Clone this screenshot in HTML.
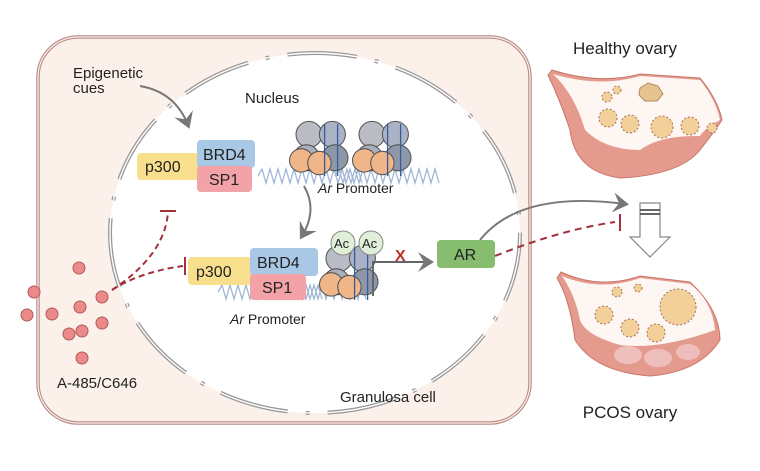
<!DOCTYPE html>
<html><head><meta charset="utf-8"><style>
body{margin:0;background:#fff}
svg{display:block;font-family:"Liberation Sans",sans-serif}
</style></head><body>
<svg width="760" height="471" viewBox="0 0 760 471">
<defs>
<marker id="ga" markerWidth="10" markerHeight="10" refX="6" refY="5" orient="auto"><path d="M0,0 L8,5 L0,10 L3,5Z" fill="#777"/></marker>
<g id="nuc">
<circle cx="-10" cy="-12" r="10" fill="#b9bcc4" stroke="#555" stroke-width="0.8"/>
<circle cx="8" cy="-12" r="10" fill="#aab3c6" stroke="#555" stroke-width="0.8"/>
<circle cx="-12" cy="6" r="10" fill="#aab0bb" stroke="#555" stroke-width="0.8"/>
<circle cx="10" cy="6" r="10" fill="#8d97aa" stroke="#555" stroke-width="0.8"/>
<circle cx="-16" cy="8" r="9" fill="#f0b68a" stroke="#555" stroke-width="0.8"/>
<circle cx="-2" cy="10" r="9" fill="#f0b68a" stroke="#555" stroke-width="0.8"/>
<path d="M2,-20 L2,20 M12,-20 L12,20" stroke="#3a5a9a" stroke-width="1"/>
</g>
<path id="dna" d="M0,0 l4,-7 l4,14 l4,-14 l4,14 l4,-14 l4,14 l4,-14 l4,14 l4,-14 l4,14 l4,-14 l4,14 l4,-14 l4,14 l4,-14 l4,14 l4,-14 l4,14 l4,-14 l4,14 l4,-14 l4,14 l4,-14 l4,14 l4,-14 l4,14" fill="none" stroke="#9fb6d2" stroke-width="1.3"/>
</defs>
<!-- cell -->
<rect x="38" y="37" width="492" height="386" rx="40" fill="#fbf1ea" stroke="#b98a86" stroke-width="3.5"/>
<rect x="38" y="37" width="492" height="386" rx="40" fill="none" stroke="#fbf1ea" stroke-width="1.2"/>
<!-- nucleus -->
<ellipse cx="315" cy="233" rx="205" ry="180" fill="#fff" stroke="#999" stroke-width="4" stroke-dasharray="70 18 4 18"/>
<ellipse cx="315" cy="233" rx="205" ry="180" fill="none" stroke="#fff" stroke-width="1.4" stroke-dasharray="70 18 4 18"/>
<text x="245" y="103" font-size="15" fill="#222">Nucleus</text>
<text x="340" y="402" font-size="15" fill="#222">Granulosa cell</text>
<text x="73" y="78" font-size="15" fill="#222">Epigenetic</text>
<text x="73" y="93" font-size="15" fill="#222">cues</text>
<path d="M140,86 Q175,92 188,125" fill="none" stroke="#777" stroke-width="2" marker-end="url(#ga)"/>
<!-- top complex -->
<use href="#dna" x="258" y="176"/>
<use href="#dna" x="335" y="176"/>
<use href="#nuc" transform="translate(322,150) scale(1.3)"/>
<use href="#nuc" transform="translate(385,150) scale(1.3)"/>
<rect x="137" y="153" width="62" height="27" rx="4" fill="#f8df8e"/>
<text x="145" y="172" font-size="16" fill="#222">p300</text>
<rect x="197" y="140" width="58" height="28" rx="4" fill="#a9c8e6"/>
<text x="203" y="160" font-size="16" fill="#222">BRD4</text>
<rect x="197" y="166" width="55" height="26" rx="4" fill="#f3a3a8"/>
<text x="209" y="185" font-size="16" fill="#222">SP1</text>
<text x="318" y="193" font-size="14" fill="#222"><tspan font-style="italic">Ar</tspan> Promoter</text>
<path d="M304,186 Q318,210 302,236" fill="none" stroke="#777" stroke-width="2" marker-end="url(#ga)"/>
<!-- bottom complex -->
<use href="#dna" x="218" y="292"/>
<use href="#dna" x="262" y="292"/>
<use href="#nuc" transform="translate(352,274) scale(1.3)"/>
<circle cx="343" cy="243" r="12" fill="#e0f0d8" stroke="#888"/>
<text x="334" y="248" font-size="13" fill="#222">Ac</text>
<circle cx="371" cy="243" r="12" fill="#e0f0d8" stroke="#888"/>
<text x="362" y="248" font-size="13" fill="#222">Ac</text>
<rect x="188" y="257" width="64" height="28" rx="4" fill="#f8df8e"/>
<text x="196" y="277" font-size="16" fill="#222">p300</text>
<rect x="250" y="248" width="68" height="28" rx="4" fill="#a9c8e6"/>
<text x="257" y="268" font-size="16" fill="#222">BRD4</text>
<rect x="250" y="274" width="56" height="26" rx="4" fill="#f3a3a8"/>
<text x="262" y="293" font-size="16" fill="#222">SP1</text>
<text x="230" y="324" font-size="14" fill="#222"><tspan font-style="italic">Ar</tspan> Promoter</text>
<path d="M373,296 L373,262 L430,262" fill="none" stroke="#666" stroke-width="2" marker-end="url(#ga)"/>
<text x="395" y="261" font-size="16" font-weight="bold" fill="#c0302a">X</text>
<rect x="437" y="240" width="58" height="28" rx="4" fill="#86bd6e"/>
<text x="454" y="260" font-size="16" fill="#222">AR</text>
<!-- inhibitors -->
<path d="M112,290 Q140,272 183,266" fill="none" stroke="#a3303d" stroke-width="2" stroke-dasharray="6 4"/>
<path d="M185,257 L185,275" stroke="#a3303d" stroke-width="2"/>
<path d="M112,290 Q165,255 168,212" fill="none" stroke="#a3303d" stroke-width="2" stroke-dasharray="6 4"/>
<path d="M160,211 L176,211" stroke="#a3303d" stroke-width="2"/>
<g fill="#ec8a8a" stroke="#b05a5a">
<circle cx="34" cy="292" r="6"/><circle cx="27" cy="315" r="6"/><circle cx="52" cy="314" r="6"/>
<circle cx="79" cy="268" r="6"/><circle cx="80" cy="307" r="6"/><circle cx="102" cy="297" r="6"/>
<circle cx="82" cy="331" r="6"/><circle cx="69" cy="334" r="6"/><circle cx="102" cy="323" r="6"/><circle cx="82" cy="358" r="6"/>
</g>
<text x="57" y="388" font-size="15" fill="#222">A-485/C646</text>
<!-- right side -->
<path d="M480,240 Q520,190 625,204" fill="none" stroke="#777" stroke-width="2" marker-end="url(#ga)"/>
<path d="M495,256 Q560,230 615,222" fill="none" stroke="#a3303d" stroke-width="2" stroke-dasharray="7 5"/>
<path d="M620,214 L620,231" stroke="#a3303d" stroke-width="2"/>
<path d="M640,203 L660,203 L660,237 L670,237 L650,257 L630,237 L640,237 Z" fill="#fff" stroke="#888" stroke-width="1.2"/>
<path d="M640,210 L660,210 M640,214 L660,214" stroke="#333" stroke-width="1.5"/>
<text x="625" y="54" font-size="17" fill="#222" text-anchor="middle">Healthy ovary</text>
<text x="630" y="418" font-size="17" fill="#222" text-anchor="middle">PCOS ovary</text>
<!-- healthy ovary -->
<path d="M548,75 L552,70 Q600,85 640,74 L700,78 Q718,100 722,120 Q712,135 700,150 Q680,175 620,178 Q575,172 570,130 Q560,100 548,75Z" fill="#e59a8e" stroke="#c9776a"/>
<path d="M553,74 Q600,88 640,76 L700,80 Q716,100 720,120 Q705,128 700,136 Q660,135 640,150 Q605,150 585,130 Q575,95 553,74Z" fill="#fdf6f2"/>
<path d="M640,88 l8,-5 l10,3 l5,8 l-6,7 l-12,0 l-6,-6Z" fill="#e6c390" stroke="#b08a60"/>
<g fill="#f3cf9a" stroke="#a3715a" stroke-dasharray="2 2">
<circle cx="607" cy="97" r="5"/><circle cx="617" cy="90" r="4"/>
<circle cx="608" cy="118" r="9"/><circle cx="630" cy="124" r="9"/><circle cx="662" cy="127" r="11"/><circle cx="690" cy="126" r="9"/><circle cx="712" cy="128" r="5"/>
</g>
<!-- pcos ovary -->
<path d="M557,278 L561,272 Q600,290 640,276 L690,282 Q720,310 720,340 Q700,372 650,376 Q595,372 575,340 Q570,300 557,278Z" fill="#e59a8e" stroke="#c9776a"/>
<path d="M562,276 Q600,292 640,278 L690,284 Q712,300 715,330 Q660,350 620,345 Q585,335 580,320 Q575,295 562,276Z" fill="#fdf6f2"/>
<g fill="#f0c8c8" opacity="0.8"><ellipse cx="628" cy="355" rx="14" ry="9"/><ellipse cx="658" cy="358" rx="14" ry="9"/><ellipse cx="688" cy="352" rx="12" ry="8"/></g>
<g fill="#f3cf9a" stroke="#a3715a" stroke-dasharray="2 2">
<circle cx="617" cy="292" r="5"/><circle cx="638" cy="288" r="4"/>
<circle cx="604" cy="315" r="9"/><circle cx="630" cy="328" r="9"/><circle cx="656" cy="333" r="9"/><circle cx="678" cy="307" r="18"/>
</g>
</svg>
</body></html>
